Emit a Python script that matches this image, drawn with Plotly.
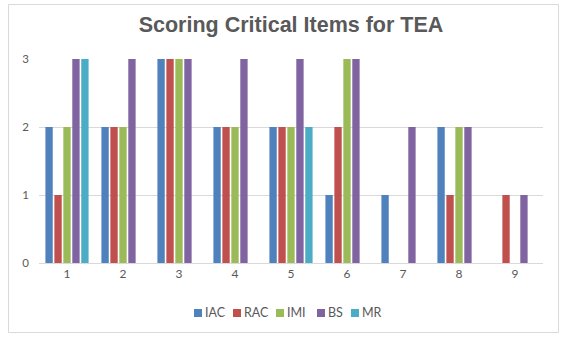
import plotly.graph_objects as go

categories = ["1", "2", "3", "4", "5", "6", "7", "8", "9"]
series_names = ["IAC", "RAC", "IMI", "BS", "MR"]
IAC = [2, 2, 3, 2, 2, 1, 1, 2, 0]
RAC = [1, 2, 3, 2, 2, 2, 0, 1, 1]
IMI = [2, 2, 3, 2, 2, 3, 0, 2, 0]
BS = [3, 3, 3, 3, 3, 3, 2, 2, 1]
MR = [3, 0, 0, 0, 2, 0, 0, 0, 0]
y_ticks = [0, 1, 2, 3]

colors = ["#4F81BD", "#C0504D", "#9BBB59", "#8064A2", "#4BACC6"]
values = [IAC, RAC, IMI, BS, MR]

fig = go.Figure()
for name, vals, col in zip(series_names, values, colors):
    fig.add_trace(go.Bar(x=categories, y=vals, name=name, marker_color=col,
                         marker_line_width=0, showlegend=False))

W, H = 568, 341
L, R, T, B = 39, 25, 59, 78
pw, ph = W - L - R, H - T - B

def px_x(p):
    return (p - L) / pw

def px_y(p):
    return (H - B - p) / ph

# compact Excel-style legend: square swatches + labels
legend_sq = [194, 233, 276, 317, 351]
annotations = []
shapes = [dict(type="rect", xref="paper", yref="paper",
               x0=px_x(8.5), x1=px_x(558.5), y0=px_y(332.5), y1=px_y(4.5),
               line=dict(color="#D9D9D9", width=1), fillcolor="rgba(0,0,0,0)",
               layer="below")]
for name, col, sx in zip(series_names, colors, legend_sq):
    shapes.append(dict(type="rect", xref="paper", yref="paper",
                       x0=px_x(sx), x1=px_x(sx + 8), y0=px_y(317), y1=px_y(309),
                       line=dict(width=0), fillcolor=col))
    annotations.append(dict(
        xref="paper", yref="paper", x=px_x(sx + 9), y=px_y(312.5),
        xanchor="left", yanchor="middle", showarrow=False,
        text=name, font=dict(family="Lato, sans-serif", size=12.5, color="#595959")))

fig.update_layout(
    width=W, height=H,
    margin=dict(l=L, r=R, t=T, b=B, pad=0),
    paper_bgcolor="white", plot_bgcolor="white",
    barmode="group", bargap=0.2, bargroupgap=0.18,
    title=dict(text="<b>Scoring Critical Items for TEA</b>", x=291 / W, xanchor="center",
               y=1 - 24 / H, yanchor="middle",
               font=dict(family="Liberation Sans, Arial", size=21.5, color="#595959")),
    font=dict(family="Lato, Carlito, sans-serif", size=11, color="#595959"),
    xaxis=dict(type="category", showgrid=False, showline=True, linecolor="#D9D9D9",
               linewidth=1, ticks="", tickfont=dict(size=12, color="#595959")),
    yaxis=dict(range=[0, 3], tickvals=y_ticks, showgrid=True, gridcolor="#D9D9D9",
               gridwidth=1, zeroline=False, showline=False, ticks="",
               tickfont=dict(size=11.5, color="#595959"), ticklabelstandoff=9),
    showlegend=False,
    annotations=annotations,
    shapes=shapes,
)

fig.write_html("out.html", config={"displayModeBar": False},
               post_script="document.body.style.margin='0';document.body.style.padding='0';")
